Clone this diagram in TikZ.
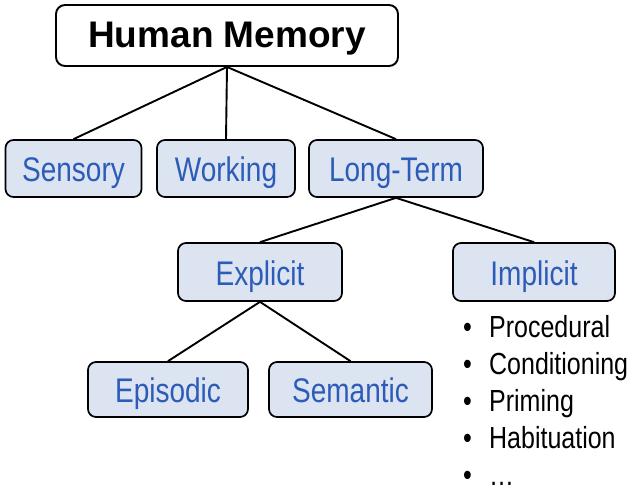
\documentclass[tikz,border=0pt]{standalone}
\usepackage{fontspec}
\setmainfont{Liberation Sans}
\definecolor{boxfill}{RGB}{220,227,241}
\definecolor{boxtext}{RGB}{44,92,184}
\newcommand{\tallt}[1]{\scalebox{1}[1.22]{#1}}
\begin{document}
\begin{tikzpicture}[x=1pt,y=-1pt,
  rootbox/.style={draw=black,line width=1.9pt,rounded corners=9pt,fill=white,
    minimum height=61pt,inner sep=0pt,text height=26pt,text depth=2pt,
    font=\fontsize{37}{40}\selectfont\bfseries},
  catbox/.style={draw=black,line width=1.7pt,rounded corners=8pt,fill=boxfill,
    text=boxtext,minimum height=57pt,inner sep=0pt,text height=30pt,text depth=4pt,
    font=\fontsize{28}{32}\selectfont},
  link/.style={line width=1.9pt,black},
  item/.style={anchor=base west,inner sep=0pt,font=\fontsize{25}{30}\selectfont}]
\useasboundingbox (0,0) rectangle (632,490);
\node[rootbox,minimum width=342pt] (hm) at (227,35.5) {Human Memory};
\node[catbox,minimum width=136pt] (sens) at (73.5,168.5) {\tallt{Sensory}};
\node[catbox,minimum width=138pt] (work) at (226,168.5) {\tallt{Working}};
\node[catbox,minimum width=174pt] (lt) at (396,168.5) {\tallt{Long-Term}};
\node[catbox,minimum width=164pt,minimum height=58pt] (expl) at (260,272) {\tallt{Explicit}};
\node[catbox,minimum width=162pt,minimum height=58pt] (impl) at (534,272) {\tallt{Implicit}};
\node[catbox,minimum width=160pt,minimum height=55pt] (epi) at (168,389.5) {\tallt{Episodic}};
\node[catbox,minimum width=163pt,minimum height=55pt] (sem) at (350.5,389.5) {\tallt{Semantic}};
\draw[link] (hm.south) -- (sens.north);
\draw[link] (hm.south) -- (work.north);
\draw[link] (hm.south) -- (lt.north);
\draw[link] (lt.south) -- (expl.north);
\draw[link] (lt.south) -- (impl.north);
\draw[link] (expl.south) -- (epi.north);
\draw[link] (expl.south) -- (sem.north);
\node[item] (i1) at (463,337.5) {\tallt{\makebox[26pt][l]{•}Procedural}};
\node[item] (i2) at (463,374.5) {\tallt{\makebox[26pt][l]{•}Conditioning}};
\node[item] (i3) at (463,411) {\tallt{\makebox[26pt][l]{•}Priming}};
\node[item] (i4) at (463,448) {\tallt{\makebox[26pt][l]{•}Habituation}};
\node[item] (i5) at (463,485) {\tallt{\makebox[26pt][l]{•}…}};
\end{tikzpicture}
\end{document}
